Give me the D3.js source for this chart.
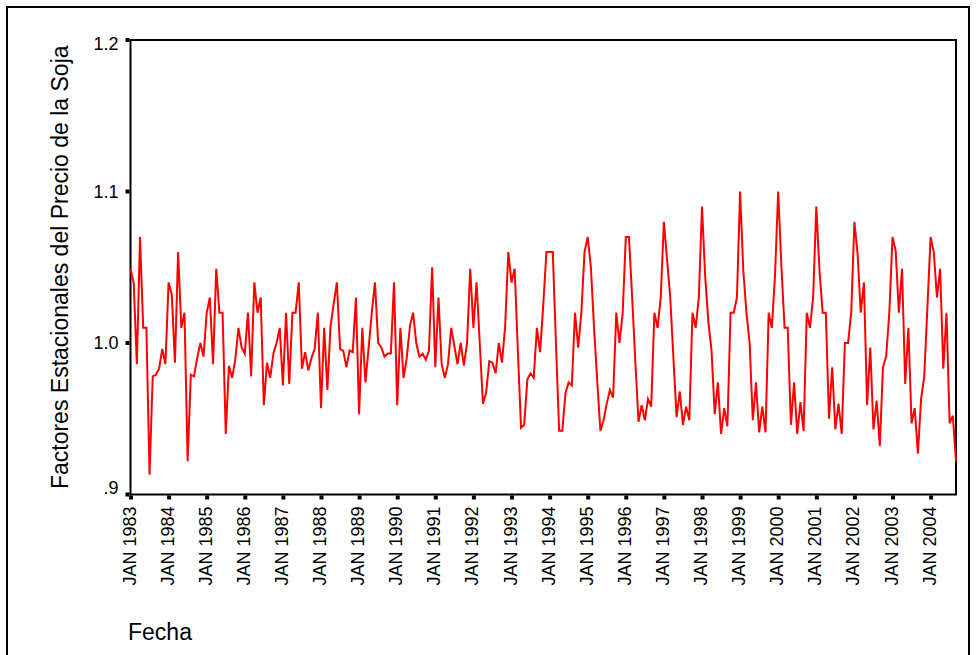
<!DOCTYPE html>
<html>
<head>
<meta charset="utf-8">
<script src="https://cdn.jsdelivr.net/npm/d3@7/dist/d3.min.js"></script>
<style>
body { margin: 0; background: #fff; }
svg  { display: block; font-family: "Liberation Sans", Arial, sans-serif; }
</style>
</head>
<body>
<svg id="chart" width="976" height="655"></svg>
<script>
"use strict"

// monthly seasonal factors, JAN 1983 onwards (one row per year)
var factores = [
    1.049, 1.040, 0.986, 1.070, 1.010, 1.010, 0.913, 0.978, 0.979, 0.983, 0.996, 0.986,
    1.040, 1.032, 0.987, 1.060, 1.010, 1.020, 0.922, 0.979, 0.978, 0.990, 1.000, 0.991,
    1.020, 1.030, 0.986, 1.049, 1.020, 1.020, 0.940, 0.985, 0.977, 0.989, 1.010, 0.997,
    0.993, 1.020, 0.978, 1.040, 1.020, 1.030, 0.959, 0.987, 0.977, 0.993, 1.000, 1.010,
    0.972, 1.020, 0.973, 1.020, 1.020, 1.040, 0.983, 0.994, 0.982, 0.990, 0.996, 1.020,
    0.957, 1.010, 0.969, 1.011, 1.026, 1.040, 0.996, 0.995, 0.984, 0.995, 0.994, 1.030,
    0.953, 1.010, 0.974, 0.997, 1.020, 1.040, 1.000, 0.997, 0.991, 0.993, 0.993, 1.040,
    0.959, 1.010, 0.977, 0.990, 1.011, 1.020, 1.000, 0.991, 0.993, 0.989, 0.995, 1.050,
    0.984, 1.030, 0.986, 0.977, 0.986, 1.010, 0.998, 0.986, 1.000, 0.985, 1.000, 1.049,
    1.010, 1.040, 1.000, 0.960, 0.967, 0.988, 0.987, 0.980, 1.000, 0.987, 1.011, 1.060,
    1.040, 1.049, 0.995, 0.944, 0.946, 0.976, 0.980, 0.977, 1.010, 0.994, 1.025, 1.060,
    1.060, 1.060, 1.000, 0.942, 0.942, 0.967, 0.974, 0.972, 1.020, 0.997, 1.020, 1.060,
    1.070, 1.050, 1.010, 0.975, 0.942, 0.949, 0.960, 0.969, 0.964, 1.020, 1.000, 1.019,
    1.070, 1.070, 1.030, 0.988, 0.948, 0.959, 0.949, 0.963, 0.958, 1.020, 1.010, 1.030,
    1.080, 1.055, 1.030, 0.990, 0.951, 0.968, 0.946, 0.958, 0.949, 1.020, 1.010, 1.030,
    1.090, 1.044, 1.014, 0.995, 0.953, 0.974, 0.940, 0.957, 0.945, 1.020, 1.020, 1.030,
    1.100, 1.048, 1.020, 1.000, 0.949, 0.974, 0.941, 0.958, 0.941, 1.020, 1.010, 1.045,
    1.100, 1.051, 1.010, 1.010, 0.946, 0.974, 0.940, 0.961, 0.942, 1.020, 1.010, 1.030,
    1.090, 1.048, 1.020, 1.020, 0.950, 0.984, 0.943, 0.960, 0.940, 1.000, 1.000, 1.020,
    1.080, 1.059, 1.020, 1.040, 0.959, 0.997, 0.943, 0.962, 0.932, 0.984, 0.991, 1.020,
    1.070, 1.061, 1.020, 1.049, 0.973, 1.010, 0.947, 0.957, 0.927, 0.963, 0.978, 1.024,
    1.070, 1.060, 1.030, 1.049, 0.983, 1.020, 0.947, 0.952, 0.922
];

var yTicks      = [0.9, 1.0, 1.1, 1.2];
var yTickLabels = [".9", "1.0", "1.1", "1.2"];

// every JAN is labelled: index of the month in the series
var xTickIndex  = d3.range(0, factores.length, 12);
var xTickLabels = [
    "JAN 1983", "JAN 1984", "JAN 1985", "JAN 1986", "JAN 1987", "JAN 1988",
    "JAN 1989", "JAN 1990", "JAN 1991", "JAN 1992", "JAN 1993", "JAN 1994",
    "JAN 1995", "JAN 1996", "JAN 1997", "JAN 1998", "JAN 1999", "JAN 2000",
    "JAN 2001", "JAN 2002", "JAN 2003", "JAN 2004"
];

var yTitle = "Factores Estacionales del Precio de la Soja";
var xTitle = "Fecha";

var box = { left: 130.5, right: 956, top: 40, bottom: 494.5 };

function drawChart() {
    var svg = d3.select('#chart');

    var x = d3.scaleLinear()
        .domain([0, factores.length - 1])
        .range([box.left, box.right]);
    var y = d3.scaleLinear()
        .domain([0.9, 1.2])
        .range([box.bottom, box.top]);

    // outer frame
    svg.append('rect')
        .attr('x', 7).attr('y', 7)
        .attr('width', 962).attr('height', 660)
        .attr('fill', 'none')
        .attr('stroke', '#000')
        .attr('stroke-width', 2);

    // plot box
    svg.append('rect')
        .attr('x', box.left).attr('y', box.top)
        .attr('width', box.right - box.left)
        .attr('height', box.bottom - box.top)
        .attr('fill', 'none')
        .attr('stroke', '#000')
        .attr('stroke-width', 2);

    var line = d3.line()
        .x((d, i) => x(i))
        .y(d => y(d));
    svg.append('path')
        .datum(factores)
        .attr('fill', 'none')
        .attr('stroke', '#ff0000')
        .attr('stroke-width', 2)
        .attr('stroke-linejoin', 'miter')
        .attr('d', line);

    // y axis
    var yAxis = d3.axisLeft(y)
        .tickValues(yTicks)
        .tickFormat((d, i) => yTickLabels[i])
        .tickSize(0)
        .tickPadding(12);
    var gy = svg.append('g')
        .attr('transform', 'translate(' + box.left + ',0)')
        .call(yAxis);
    gy.select('.domain').remove();
    gy.selectAll('.tick text')
        .attr('font-family', '"Liberation Sans", Arial, sans-serif')
        .attr('font-size', '18px')
        .attr('fill', '#000')
        .attr('dy', d => d == 1.2 ? '0.55em' : (d == 0.9 ? '-0.03em' : '0.32em'));
    gy.selectAll('.tick').append('rect')
        .attr('x', -5).attr('y', -2.5)
        .attr('width', 4).attr('height', 4)
        .attr('fill', '#000');

    // x axis
    var xAxis = d3.axisBottom(x)
        .tickValues(xTickIndex)
        .tickFormat((d, i) => xTickLabels[i])
        .tickSize(0)
        .tickPadding(0);
    var gx = svg.append('g')
        .attr('transform', 'translate(0,' + box.bottom + ')')
        .call(xAxis);
    gx.select('.domain').remove();
    gx.selectAll('.tick text')
        .attr('font-family', '"Liberation Sans", Arial, sans-serif')
        .attr('font-size', '18px')
        .attr('fill', '#000')
        .attr('transform', 'rotate(-90)')
        .attr('text-anchor', 'end')
        .attr('x', -12)
        .attr('y', 0)
        .attr('dy', '0.25em');
    gx.selectAll('.tick').append('rect')
        .attr('x', -2).attr('y', 1)
        .attr('width', 4).attr('height', 4)
        .attr('fill', '#000');

    // titles
    svg.append('text')
        .attr('transform', 'translate(68,' + ((box.top + box.bottom) / 2) + ') rotate(-90)')
        .attr('text-anchor', 'middle')
        .attr('font-size', '23px')
        .text(yTitle);
    svg.append('text')
        .attr('x', 128)
        .attr('y', 640)
        .attr('font-size', '23px')
        .text(xTitle);
}

drawChart();
</script>
</body>
</html>
